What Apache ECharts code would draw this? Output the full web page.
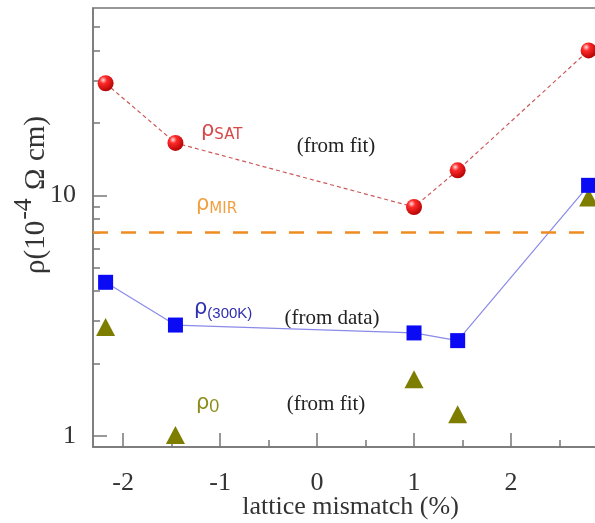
<!DOCTYPE html>
<html lang="en">
<head>
<meta charset="UTF-8">
<title>rho vs lattice mismatch</title>
<script src="https://cdn.jsdelivr.net/npm/echarts@6/dist/echarts.min.js"></script>
<style>
  html, body { margin: 0; padding: 0; background: #fff; }
  #chart { width: 595px; height: 523px; }
</style>
</head>
<body>
<div id="chart"></div>
<script>
  // lattice mismatch (%) of the five films
  const mismatch = [-2.18, -1.46, 1.0, 1.45, 2.8];
  // resistivities in 10^-4 Ohm cm
  const rhoSat = [29.2, 16.5, 8.94, 12.7, 40];
  const rho300K = [4.35, 2.89, 2.68, 2.49, 11.0];
  const rho0 = [2.84, 1.01, 1.72, 1.23, 9.8];
  const rhoMir = 7;

  const xMajorTicks = [-2, -1, 0, 1, 2];
  const xMinorTicks = [-1.5, -0.5, 0.5, 1.5, 2.5];
  const yMajorTicks = [1, 10];
  const yMinorTicks = [2, 3, 4, 5, 6, 7, 8, 9, 20, 30, 40, 50];

  const pairs = (ys) => mismatch.map((x, i) => [x, ys[i]]);

  const axisColor = '#777';
  const serif = 'Liberation Serif';
  const sans = 'Liberation Sans';
  const wide = 'DejaVu Sans';

  const xRange = { min: -2.31, max: 3 };
  const yRange = { min: 0.9, max: 60 };

  const ball = {
    type: 'radial', x: 0.35, y: 0.3, r: 0.75,
    colorStops: [
      { offset: 0, color: '#ffe0e0' },
      { offset: 0.3, color: '#ff2a2a' },
      { offset: 1, color: '#b00000' }
    ]
  };

  // greek letter with a subscript, as rich text
  function rhoLabel(x, y, sub, color, subFont, subSize, drop) {
    return {
      type: 'text', x: x, y: y,
      style: {
        text: '{r|ρ}{s|' + sub + '}', align: 'left', verticalAlign: 'middle',
        rich: {
          r: { fontSize: 21, fontFamily: wide, fill: color, lineHeight: 24 },
          s: { fontSize: subSize, fontFamily: subFont, fill: color, lineHeight: subSize, verticalAlign: 'bottom', padding: [drop, 0, 0, 0] }
        }
      }
    };
  }

  const chart = echarts.init(document.getElementById('chart'), null, { renderer: 'canvas' });

  chart.setOption({
    animation: false,
    grid: {
      left: 93, top: 8, width: 515, height: 439,
      outerBoundsMode: 'none', containLabel: false,
      show: true, borderColor: axisColor, borderWidth: 1.5
    },
    xAxis: [
      {
        type: 'value', ...xRange, position: 'bottom',
        axisLine: { onZero: false, lineStyle: { color: axisColor, width: 1.5 } },
        axisTick: { inside: true, length: 14, customValues: xMajorTicks, lineStyle: { color: axisColor, width: 1.5 } },
        axisLabel: { customValues: xMajorTicks, margin: 23, fontSize: 26, fontFamily: serif, color: '#333' },
        splitLine: { show: false },
        name: 'lattice mismatch (%)', nameLocation: 'middle', nameGap: 47, nameMoveOverlap: false,
        nameTextStyle: { fontSize: 26, fontFamily: serif, color: '#333' }
      },
      {
        type: 'value', ...xRange, position: 'bottom',
        axisLine: { show: false, onZero: false },
        axisTick: { inside: true, length: 7, customValues: xMinorTicks, lineStyle: { color: axisColor, width: 1.5 } },
        axisLabel: { show: false },
        splitLine: { show: false }
      }
    ],
    yAxis: [
      {
        type: 'log', ...yRange, position: 'left',
        axisLine: { show: true, onZero: false, lineStyle: { color: axisColor, width: 1.5 } },
        axisTick: { show: true, inside: true, length: 14, customValues: yMajorTicks, lineStyle: { color: axisColor, width: 1.5 } },
        axisLabel: { customValues: yMajorTicks, margin: 17, fontSize: 26, fontFamily: serif, color: '#333' },
        splitLine: { show: false }
      },
      {
        type: 'log', ...yRange, position: 'left',
        axisLine: { show: false, onZero: false },
        axisTick: { show: true, inside: true, length: 7, customValues: yMinorTicks, lineStyle: { color: axisColor, width: 1.5 } },
        axisLabel: { show: false },
        splitLine: { show: false }
      }
    ],
    series: [
      {
        name: 'rho0', type: 'line', data: pairs(rho0),
        lineStyle: { width: 0 },
        symbol: 'triangle', symbolSize: [19, 18],
        itemStyle: { color: '#7d7d00' }
      },
      {
        name: 'rhoMIR', type: 'line', data: [],
        markLine: {
          silent: true, symbol: 'none', label: { show: false },
          lineStyle: { color: '#ee8c22', width: 2.5, type: [15, 13] },
          data: [{ yAxis: rhoMir }]
        }
      },
      {
        name: 'rho300K', type: 'line', data: pairs(rho300K),
        lineStyle: { color: '#8a8ae8', width: 1.2 },
        symbol: 'rect', symbolSize: 15,
        itemStyle: { color: '#0a0af5' }
      },
      {
        name: 'rhoSAT', type: 'line', data: pairs(rhoSat),
        lineStyle: { color: '#cc5a5a', width: 1.2, type: [4, 3] },
        symbol: 'circle', symbolSize: 16,
        itemStyle: { color: ball }
      }
    ],
    graphic: [
      {
        type: 'text', x: 36, y: 195, rotation: Math.PI / 2,
        style: {
          text: '{n|ρ(10}{s|-4}{n| Ω cm)}',
          align: 'center', verticalAlign: 'middle',
          rich: {
            n: { fontSize: 29, fontFamily: serif, fill: '#333', lineHeight: 50 },
            s: { fontSize: 26, fontFamily: serif, fill: '#333', lineHeight: 26, verticalAlign: 'top', padding: [0, 1, 0, 1] }
          }
        }
      },
      rhoLabel(201, 131, 'SAT', '#d84848', wide, 15, 0),
      { type: 'text', x: 336, y: 146,
        style: { text: '(from fit)', align: 'center', verticalAlign: 'middle', fontSize: 21, fontFamily: serif, fill: '#222' } },
      rhoLabel(196, 205, 'MIR', '#f0a040', wide, 15, 0),
      rhoLabel(194, 309, '(300K)', '#2e2eb0', sans, 15, 6),
      { type: 'text', x: 332, y: 318,
        style: { text: '(from data)', align: 'center', verticalAlign: 'middle', fontSize: 21, fontFamily: serif, fill: '#222' } },
      rhoLabel(196, 404, '0', '#8c8c1a', sans, 18, 8),
      { type: 'text', x: 326, y: 404,
        style: { text: '(from fit)', align: 'center', verticalAlign: 'middle', fontSize: 21, fontFamily: serif, fill: '#222' } }
    ]
  });
</script>
</body>
</html>
